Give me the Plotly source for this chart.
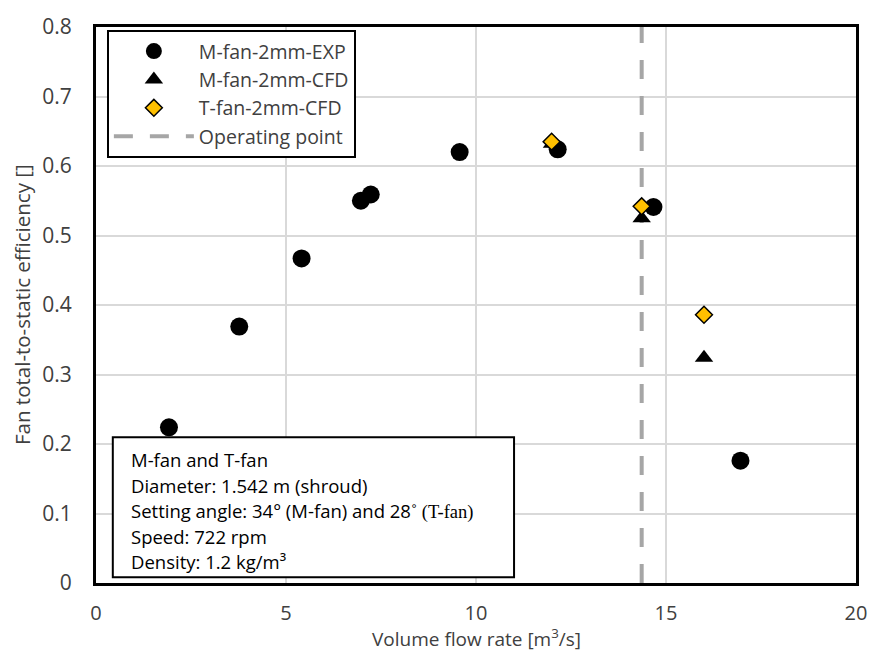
import plotly.graph_objects as go

# Measured fan efficiency (experiment) and CFD predictions
exp_flow = [1.92, 3.77, 5.41, 6.97, 7.23, 9.57, 12.15, 14.67, 16.96]
exp_eff = [0.224, 0.369, 0.467, 0.550, 0.559, 0.620, 0.624, 0.541, 0.176]

mcfd_flow = [12.0, 14.36, 16.0]
mcfd_eff = [0.632, 0.525, 0.324]

tcfd_flow = [11.99, 14.36, 16.0]
tcfd_eff = [0.635, 0.542, 0.386]

operating_flow = 14.36
y_limits = [0, 0.8]

info_lines = [
    "M-fan and T-fan",
    "Diameter: 1.542 m (shroud)",
    "Setting angle: 34° (M-fan) and 28<span style='font-family:Liberation Serif'>˚ (T-fan)</span>",
    "Speed: 722 rpm",
    "Density: 1.2 kg/m³",
]

FONT = "Open Sans"
TXT = "#404040"

fig = go.Figure()

fig.add_trace(go.Scatter(
    x=[operating_flow, operating_flow], y=y_limits, mode="lines",
    name="Operating point", legendrank=4,
    line=dict(color="#A6A6A6", width=4, dash="19px,17px"),
))
fig.add_trace(go.Scatter(
    x=exp_flow, y=exp_eff, mode="markers", name="M-fan-2mm-EXP", legendrank=1,
    marker=dict(symbol="circle", size=18, color="black"),
))
fig.add_trace(go.Scatter(
    x=mcfd_flow, y=mcfd_eff, mode="markers", name="M-fan-2mm-CFD", legendrank=2,
    marker=dict(symbol="triangle-up", size=16, color="black"),
))
fig.add_trace(go.Scatter(
    x=tcfd_flow, y=tcfd_eff, mode="markers", name="T-fan-2mm-CFD", legendrank=3,
    marker=dict(symbol="diamond", size=13, color="#FFC000",
                line=dict(color="black", width=1.5)),
))

# Parameter box in the lower-left corner
fig.add_shape(type="rect", xref="paper", yref="paper",
              x0=(113 - 96) / 769, x1=(519 - 96) / 769,
              y0=(583 - 577) / 568, y1=(583 - 434) / 568,
              line=dict(color="black", width=2), fillcolor="white", layer="above")
for i, line in enumerate(info_lines):
    fig.add_annotation(
        text=line, xref="paper", yref="paper",
        x=(129 - 96) / 769, y=(583 - (457 + 26 * i)) / 568,
        xanchor="left", yanchor="middle", showarrow=False,
        font=dict(family=FONT, size=18.5, color="black"),
    )

# Axis titles
fig.add_annotation(
    text="Volume flow rate [m<sup>3</sup>/s]", xref="paper", yref="paper",
    x=0.5, y=0, yshift=-55, xanchor="center", yanchor="middle", showarrow=False,
    font=dict(family=FONT, size=19, color=TXT),
)
fig.add_annotation(
    text="Fan total-to-static efficiency []", xref="paper", yref="paper",
    x=0, y=0.5, xshift=-74, xanchor="center", yanchor="middle", showarrow=False,
    textangle=-90, font=dict(family=FONT, size=20.5, color=TXT),
)

fig.update_layout(
    width=879, height=653,
    margin=dict(l=96, r=14, t=15, b=70),
    paper_bgcolor="white", plot_bgcolor="white",
    showlegend=True,
    legend=dict(
        x=(107 - 96) / 769, y=1 - (18 - 15) / 568, xanchor="left", yanchor="top",
        bgcolor="white", bordercolor="black", borderwidth=2,
        font=dict(family=FONT, size=19.5, color=TXT),
        itemwidth=80,
    ),
)
fig.update_xaxes(
    range=[0, 20], dtick=5, tick0=0,
    showgrid=True, gridcolor="#D9D9D9", gridwidth=1.5,
    showline=True, mirror=True, linecolor="black", linewidth=3,
    zeroline=False, ticks="", ticklabelstandoff=10,
    tickfont=dict(family=FONT, size=20, color=TXT),
)
fig.update_yaxes(
    range=y_limits, dtick=0.1, tick0=0,
    showgrid=True, gridcolor="#D9D9D9", gridwidth=1.5,
    showline=True, mirror=True, linecolor="black", linewidth=3,
    zeroline=False, ticks="", ticklabelstandoff=17,
    tickfont=dict(family=FONT, size=21, color=TXT),
)

fig.write_html("out.html")
